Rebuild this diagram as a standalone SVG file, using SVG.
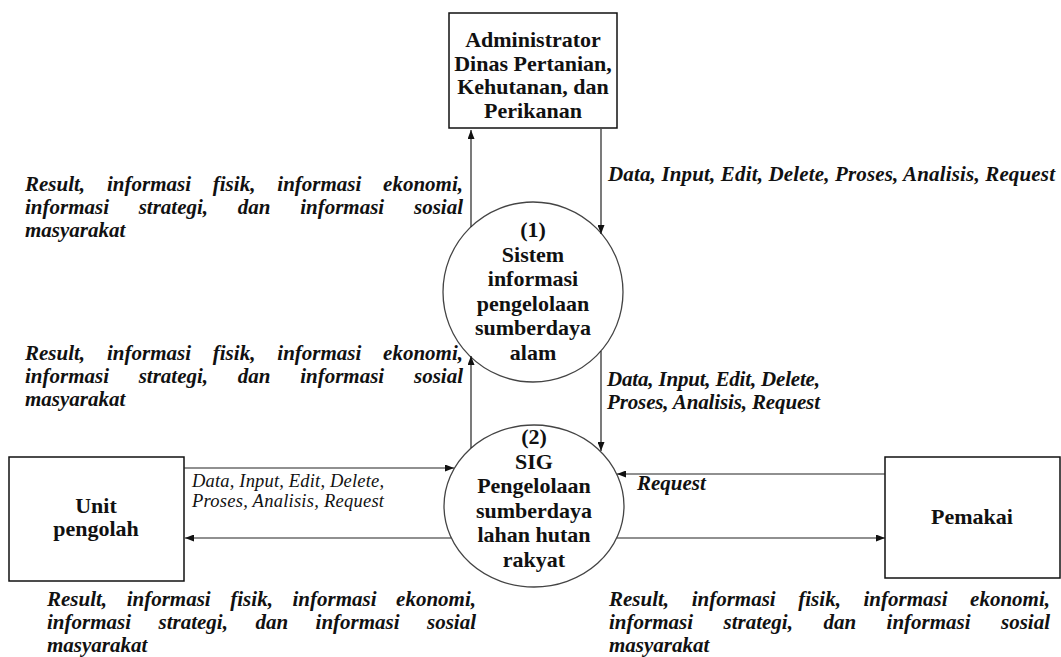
<svg xmlns="http://www.w3.org/2000/svg" width="1061" height="657" viewBox="0 0 1061 657">
<style>
.box{fill:#fff;stroke:#111;stroke-width:1.5}
.proc{fill:#fff;stroke:#444;stroke-width:1.3}
.nt{font-family:"Liberation Serif",serif;font-weight:bold;font-size:22px;fill:#111;text-anchor:middle}
.lb{font-family:"Liberation Serif",serif;font-weight:bold;font-style:italic;font-size:21px;fill:#111}
.ls{font-family:"Liberation Serif",serif;font-style:italic;font-size:18.5px;fill:#111}
.cn{fill:none;stroke:#222;stroke-width:1.2;marker-end:url(#ah)}
</style>
<defs>
<marker id="ah" markerUnits="userSpaceOnUse" markerWidth="9" markerHeight="7" refX="9" refY="3.5" orient="auto">
<path d="M0,0 L9,3.5 L0,7 z" fill="#111"/>
</marker>
</defs>
<rect width="1061" height="657" fill="#fff"/>

<g id="admin">
<rect class="box" x="449" y="13" width="168" height="115"/>
<text class="nt" x="533" y="47">Administrator</text>
<text class="nt" x="533" y="70.5">Dinas Pertanian,</text>
<text class="nt" x="533" y="94">Kehutanan, dan</text>
<text class="nt" x="533" y="117.5">Perikanan</text>
</g>

<g id="proc1">
<ellipse class="proc" cx="533" cy="292" rx="90" ry="90"/>
<text class="nt" x="533" y="237">(1)</text>
<text class="nt" x="533" y="261.5">Sistem</text>
<text class="nt" x="533" y="286">informasi</text>
<text class="nt" x="533" y="310.5">pengelolaan</text>
<text class="nt" x="533" y="335">sumberdaya</text>
<text class="nt" x="533" y="359.5">alam</text>
</g>

<g id="proc2">
<ellipse class="proc" cx="534" cy="506" rx="90" ry="81"/>
<text class="nt" x="534" y="444">(2)</text>
<text class="nt" x="534" y="468.5">SIG</text>
<text class="nt" x="534" y="493">Pengelolaan</text>
<text class="nt" x="534" y="517.5">sumberdaya</text>
<text class="nt" x="534" y="542">lahan hutan</text>
<text class="nt" x="534" y="566.5">rakyat</text>
</g>

<g id="unit">
<rect class="box" x="9" y="457" width="175" height="124"/>
<text class="nt" x="96" y="513">Unit</text>
<text class="nt" x="96" y="536">pengolah</text>
</g>

<g id="pemakai">
<rect class="box" x="885" y="457" width="175" height="121"/>
<text class="nt" x="972" y="524">Pemakai</text>
</g>

<g id="connectors">
<path class="cn" d="M471,227 L471,130"/>
<path class="cn" d="M601,129 L601,234"/>
<path class="cn" d="M471,448 L471,356"/>
<path class="cn" d="M601,351 L601,451"/>
<path class="cn" d="M184,468 L454,468"/>
<path class="cn" d="M451,538 L185,538"/>
<path class="cn" d="M885,474 L617,474"/>
<path class="cn" d="M617,538 L885,538"/>
</g>

<g id="labels">
<text class="lb" x="608" y="181" textLength="447" lengthAdjust="spacing">Data, Input, Edit, Delete, Proses, Analisis, Request</text>

<text class="lb" y="191"><tspan x="25">Result,</tspan><tspan x="107">informasi</tspan><tspan x="212.8">fisik,</tspan><tspan x="277.3">informasi</tspan><tspan x="463" text-anchor="end">ekonomi,</tspan></text>
<text class="lb" y="214"><tspan x="25">informasi</tspan><tspan x="138.7">strategi,</tspan><tspan x="237.8">dan</tspan><tspan x="300.2">informasi</tspan><tspan x="463" text-anchor="end">sosial</tspan></text>
<text class="lb" x="25" y="237">masyarakat</text>

<text class="lb" y="360"><tspan x="25">Result,</tspan><tspan x="107">informasi</tspan><tspan x="212.8">fisik,</tspan><tspan x="277.3">informasi</tspan><tspan x="463" text-anchor="end">ekonomi,</tspan></text>
<text class="lb" y="383"><tspan x="25">informasi</tspan><tspan x="138.7">strategi,</tspan><tspan x="237.8">dan</tspan><tspan x="300.2">informasi</tspan><tspan x="463" text-anchor="end">sosial</tspan></text>
<text class="lb" x="25" y="406">masyarakat</text>

<text class="lb" x="607" y="386" textLength="213" lengthAdjust="spacing">Data, Input, Edit, Delete,</text>
<text class="lb" x="607" y="409" textLength="213" lengthAdjust="spacing">Proses, Analisis, Request</text>

<text class="ls" x="192" y="487" textLength="192" lengthAdjust="spacing">Data, Input, Edit, Delete,</text>
<text class="ls" x="192" y="507" textLength="192" lengthAdjust="spacing">Proses, Analisis, Request</text>

<text class="lb" x="637" y="490">Request</text>

<text class="lb" y="606"><tspan x="47">Result,</tspan><tspan x="126.7">informasi</tspan><tspan x="230.3">fisik,</tspan><tspan x="292.5">informasi</tspan><tspan x="476" text-anchor="end">ekonomi,</tspan></text>
<text class="lb" y="629"><tspan x="47">informasi</tspan><tspan x="158.5">strategi,</tspan><tspan x="255.4">dan</tspan><tspan x="315.6">informasi</tspan><tspan x="476" text-anchor="end">sosial</tspan></text>
<text class="lb" x="47" y="652">masyarakat</text>

<text class="lb" y="606"><tspan x="609">Result,</tspan><tspan x="691.7">informasi</tspan><tspan x="798.3">fisik,</tspan><tspan x="863.5">informasi</tspan><tspan x="1050" text-anchor="end">ekonomi,</tspan></text>
<text class="lb" y="629"><tspan x="609">informasi</tspan><tspan x="723.5">strategi,</tspan><tspan x="823.4">dan</tspan><tspan x="886.6">informasi</tspan><tspan x="1050" text-anchor="end">sosial</tspan></text>
<text class="lb" x="609" y="652">masyarakat</text>
</g>
</svg>
